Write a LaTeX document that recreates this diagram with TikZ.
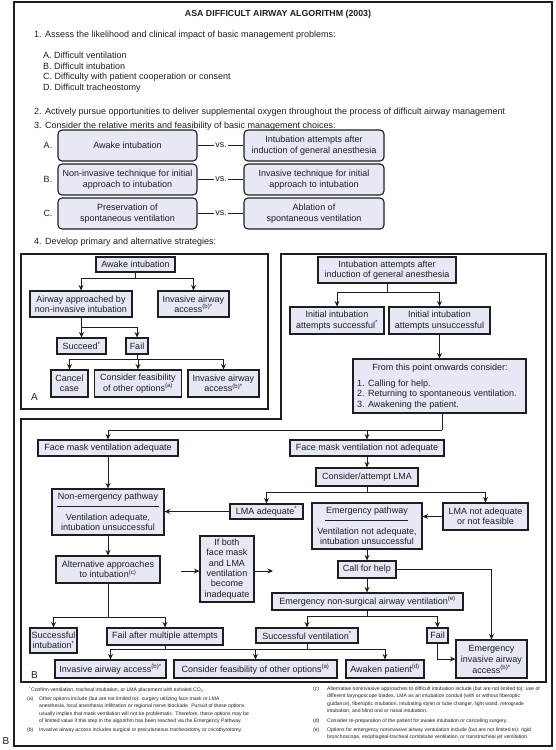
\documentclass[tikz,border=0pt]{standalone}
\usepackage{fontspec}
\setmainfont{Liberation Sans}
\usetikzlibrary{arrows.meta,calc}
\definecolor{boxfill}{RGB}{230,232,245}
\definecolor{ink}{RGB}{30,30,30}
\begin{document}
\begin{tikzpicture}[x=1pt,y=-1pt,
  every node/.style={font=\fontsize{9}{10.4}\selectfont, text=ink},
  bx/.style={draw=ink, fill=boxfill, line width=1.1pt, inner sep=0pt, align=center},
  rbx/.style={bx, rounded corners=4pt},
  arr/.style={-{Stealth[length=5.5pt,width=5pt]}, line width=1pt, draw=ink},
  ln/.style={line width=1pt, draw=ink},
  frm/.style={line width=1.2pt, draw=ink},
  txt/.style={inner sep=0pt, anchor=west},
  lbl/.style={inner sep=0pt, font=\fontsize{10}{12}\selectfont},
  fn/.style={inner sep=0pt, anchor=north west, font=\fontsize{5.1}{7.4}\selectfont, align=left},
]
\useasboundingbox (0,0) rectangle (556,750);
% frames
\draw[frm] (14,2) rectangle (552,746);
\draw[frm] (21,254) rectangle (268,409);
\draw[frm] (21,419) -- (281,419) -- (281,254) -- (546,254) -- (546,682) -- (21,682) -- cycle;

% header texts
\node[inner sep=0pt, font=\bfseries\fontsize{8.8}{10}\selectfont] (title) at (278,14) {ASA DIFFICULT AIRWAY ALGORITHM (2003)};
\node[txt] (t1) at (34,35) {1. Assess the likelihood and clinical impact of basic management problems:};
\node[txt] (t1a) at (43,55.5) {A. Difficult ventilation};
\node[txt] (t1b) at (43,66.5) {B. Difficult intubation};
\node[txt] (t1c) at (43,77.5) {C. Difficulty with patient cooperation or consent};
\node[txt] (t1d) at (43,88.5) {D. Difficult tracheostomy};
\node[txt] (t2) at (34,112) {2. Actively pursue opportunities to deliver supplemental oxygen throughout the process of difficult airway management};
\node[txt] (t3) at (34,126) {3. Consider the relative merits and feasibility of basic management choices:};
\node[txt] (t4) at (34,242) {4. Develop primary and alternative strategies:};

% section 3 rows
\node (lA) at (48,145.5) {A.};
\node (lB) at (48,179.5) {B.};
\node (lC) at (48,213.5) {C.};
\node[rbx, minimum width=139pt, minimum height=31pt] (sA1) at (127.5,145.5) {Awake intubation};
\node[rbx, minimum width=140pt, minimum height=31pt] (sA2) at (314,145.5) {Intubation attempts after\\induction of general anesthesia};
\node[rbx, minimum width=139pt, minimum height=31pt] (sB1) at (127.5,179.5) {Non-invasive technique for initial\\approach to intubation};
\node[rbx, minimum width=140pt, minimum height=31pt] (sB2) at (314,179.5) {Invasive technique for initial\\approach to intubation};
\node[rbx, minimum width=139pt, minimum height=31pt] (sC1) at (127.5,213.5) {Preservation of\\spontaneous ventilation};
\node[rbx, minimum width=140pt, minimum height=31pt] (sC2) at (314,213.5) {Ablation of\\spontaneous ventilation};
\node[inner sep=1.5pt] (vsA) at (221,145.5) {vs.};
\node[inner sep=1.5pt] (vsB) at (221,179.5) {vs.};
\node[inner sep=1.5pt] (vsC) at (221,213.5) {vs.};
\draw[ln] (sA1.east) -- (vsA.west); \draw[ln] (vsA.east) -- (sA2.west);
\draw[ln] (sB1.east) -- (vsB.west); \draw[ln] (vsB.east) -- (sB2.west);
\draw[ln] (sC1.east) -- (vsC.west); \draw[ln] (vsC.east) -- (sC2.west);

% box A
\node[bx, minimum width=79pt, minimum height=15pt] (awake) at (135.5,264.5) {Awake intubation};
\node[bx, minimum width=102pt, minimum height=26pt] (airway) at (81,304) {Airway approached by\\non-invasive intubation};
\node[bx, minimum width=71pt, minimum height=26pt] (invA1) at (193.5,304) {Invasive airway\\access\textsuperscript{(b)*}};
\node[bx, minimum width=49pt, minimum height=16pt] (succeed) at (81.5,346) {Succeed\textsuperscript{*}};
\node[bx, minimum width=22pt, minimum height=16pt] (failA) at (137,346) {Fail};
\node[bx, minimum width=37pt, minimum height=27pt] (cancel) at (69.5,383.5) {Cancel\\case};
\node[bx, minimum width=87pt, minimum height=27pt] (consA) at (138,383.5) {Consider feasibility\\of other options\textsuperscript{(a)}};
\node[bx, minimum width=71pt, minimum height=27pt] (invA2) at (223.5,383.5) {Invasive airway\\access\textsuperscript{(b)*}};
\node[lbl] (labA) at (34.5,397) {A};
\draw[ln] (awake.south) -- ++(0,6) coordinate (jA1);
\draw[arr] (jA1) -| (airway.north);
\draw[arr] (jA1) -| (invA1.north);
\draw[ln] (airway.south) -- ++(0,10) coordinate (jA2);
\draw[arr] (jA2) -| (succeed.north);
\draw[arr] (jA2) -| (failA.north);
\draw[ln] (failA.south) -- ++(0,5) coordinate (jA3);
\draw[arr] (jA3) -| (cancel.north);
\draw[arr] (jA3) -| (consA.north);
\draw[arr] (jA3) -| (invA2.north);

% box B upper
\node[bx, minimum width=138pt, minimum height=26pt] (induct) at (387,270) {Intubation attempts after\\induction of general anesthesia};
\node[bx, minimum width=94pt, minimum height=27pt] (isucc) at (337,320.5) {Initial intubation\\attempts successful\textsuperscript{*}};
\node[bx, minimum width=101pt, minimum height=27pt] (iunsucc) at (439.5,320.5) {Initial intubation\\attempts unsuccessful};
\node[bx, minimum width=173pt, minimum height=54pt] (from) at (439.5,386) {};
\node[inner sep=0pt] (fromH) at (440,368) {From this point onwards consider:};
\node[txt, align=left] (fromL) at (357,394.5) {1. Calling for help.\\2. Returning to spontaneous ventilation.\\3. Awakening the patient.};
\draw[ln] (induct.south) -- ++(0,9) coordinate (jB1);
\draw[arr] (jB1) -| (isucc.north);
\draw[arr] (jB1) -| (iunsucc.north);
\draw[arr] (iunsucc.south) -- (from.north -| iunsucc.south);
\coordinate (jB2) at (442,430);
\draw[ln] (from.south -| jB2) -- (jB2);

% box B lower
\node[bx, minimum width=140pt, minimum height=16pt] (fmadeq) at (108,448) {Face mask ventilation adequate};
\node[bx, minimum width=154pt, minimum height=16pt] (fmnot) at (367,448) {Face mask ventilation not adequate};
\draw[arr] (jB2) -| (fmadeq.north);
\draw[arr] (jB2) -| (fmnot.north);
\node[bx, minimum width=102pt, minimum height=18pt] (lma) at (367,477) {Consider/attempt LMA};
\draw[arr] (fmnot.south) -- (lma.north);
\node[bx, minimum width=73pt, minimum height=15pt] (lmaok) at (266.5,511.5) {LMA adequate\textsuperscript{*}};
\node[bx, minimum width=85pt, minimum height=27pt] (lmanot) at (485.5,516.5) {LMA not adequate\\or not feasible};
\draw[ln] (lma.south) -- ++(0,6) coordinate (jB3);
\draw[arr] (jB3) -| (lmaok.north);
\draw[arr] (jB3) -| (lmanot.north);

\node[bx, minimum width=112pt, minimum height=46pt] (nonem) at (108,512) {};
\node[inner sep=0pt] (nonemH) at (108,497.5) {Non-emergency pathway};
\draw[line width=0.8pt, draw=ink] (57,506) -- (159,506);
\node[inner sep=0pt, align=center] (nonemB) at (108,522.5) {Ventilation adequate,\\intubation unsuccessful};

\node[bx, minimum width=110pt, minimum height=46pt] (emerg) at (367,526) {};
\node[inner sep=0pt] (emergH) at (367,511.5) {Emergency pathway};
\draw[line width=0.8pt, draw=ink] (325,520) -- (408,520);
\node[inner sep=0pt, align=center] (emergB) at (367,536) {Ventilation not adequate,\\intubation unsuccessful};

\draw[arr] (fmadeq.south) -- (nonem.north);
\draw[arr] (lmaok.west) -- (lmaok.west -| nonem.east);
\draw[arr] (lmanot.west) -- (lmanot.west -| emerg.east);

\node[bx, minimum width=104pt, minimum height=27pt] (alt) at (108,569.5) {Alternative approaches\\to intubation\textsuperscript{(c)}};
\draw[arr] (nonem.south) -- (alt.north);
\node[bx, minimum width=54pt, minimum height=66pt] (ifboth) at (227,569) {If both\\face mask\\and LMA\\ventilation\\become\\inadequate};
\coordinate (ib1) at (181,571);
\coordinate (ib2) at (273,571);
\draw[arr] (ib1) -- (ib1 -| ifboth.west);
\draw[arr] (ib2 -| ifboth.east) -- (ib2);

\node[bx, minimum width=58pt, minimum height=17pt] (help) at (367,569.5) {Call for help};
\draw[arr] (emerg.south) -- (help.north);
\node[bx, minimum width=191pt, minimum height=17pt] (ensav) at (367.5,601.5) {Emergency non-surgical airway ventilation\textsuperscript{(e)}};
\draw[arr] (help.south) -- (ensav.north -| help.south);
\node[bx, minimum width=102pt, minimum height=15pt] (svent) at (307,635.5) {Successful ventilation\textsuperscript{*}};
\node[bx, minimum width=21pt, minimum height=15pt] (failB) at (437.5,635.5) {Fail};
\draw[ln] (ensav.south -| help.south) -- ++(0,6) coordinate (jB4);
\draw[arr] (jB4) -| (svent.north);
\draw[arr] (jB4) -| (failB.north);
\node[bx, minimum width=71pt, minimum height=38pt, font=\fontsize{9}{11}\selectfont] (einv) at (491.5,659) {Emergency\\invasive airway\\access\textsuperscript{(b)*}};
\draw[arr] (help.east) -| (einv.north);
\draw[arr] (failB.south) |- (einv.west);

\node[bx, minimum width=47pt, minimum height=25pt] (sint) at (53.5,640.5) {Successful\\intubation\textsuperscript{*}};
\node[bx, minimum width=116pt, minimum height=17pt] (fmult) at (165,636.5) {Fail after multiple attempts};
\draw[ln] (alt.south) -- ++(0,34) coordinate (jB5);
\draw[arr] (jB5) -| (sint.north);
\draw[arr] (jB5) -| (fmult.north);

\node[bx, minimum width=111pt, minimum height=18pt] (invB) at (110.5,669) {Invasive airway access\textsuperscript{(b)*}};
\node[bx, minimum width=163pt, minimum height=18pt] (consB) at (255.5,669) {Consider feasibility of other options\textsuperscript{(a)}};
\node[bx, minimum width=78pt, minimum height=18pt] (awaken) at (385,669) {Awaken patient\textsuperscript{(d)}};
\draw[ln] (fmult.south) -- ++(0,4) coordinate (jF);
\draw[ln] (svent.south) -- (svent.south |- jF) coordinate (jS);
\draw[ln] (jF) -- (jS);
\draw[arr] (jF) -| (invB.north);
\draw[arr] (jF) -| (consB.north);
\draw[arr] (jS) -| (awaken.north);
\node[lbl] (labB) at (34.5,675) {B};
\node[lbl] (labB2) at (6,741) {B};

% footnotes
\node[fn] (fnS) at (29,686.5) {\textsuperscript{*}Confirm ventilation, tracheal intubation, or LMA placement with exhaled CO\textsubscript{2}.};
\node[fn] (fnaL) at (27,696.5) {(a)};
\node[fn] (fnaT) at (39,696.5) {Other options include (but are not limited to): surgery utilizing face mask or LMA\\anesthesia, local anesthesia infiltration or regional nerve blockade. Pursuit of these options\\usually implies that mask ventilation will not be problematic. Therefore, these options may be\\of limited value if this step in the algorithm has been reached via the Emergency Pathway.};
\node[fn] (fnbL) at (27,727.5) {(b)};
\node[fn] (fnbT) at (39,727.5) {Invasive airway access includes surgical or precutaneous tracheostomy or cricothyrotomy.};
\node[fn] (fncL) at (313,686.5) {(c)};
\node[fn] (fncT) at (327,686.5) {Alternative noninvasive approaches to difficult intubation include (but are not limited to): use of\\different laryngoscope blades, LMA as an intubation conduit (with or without fiberoptic\\guidance), fiberoptic intubation, intubating stylet or tube changer, light wand, retrograde\\intubation, and blind oral or nasal intubation.};
\node[fn] (fndL) at (313,718.5) {(d)};
\node[fn] (fndT) at (327,718.5) {Consider re-preparation of the patient for awake intubation or canceling surgery.};
\node[fn] (fneL) at (313,727.5) {(e)};
\node[fn] (fneT) at (327,727.5) {Options for emergency noninvasive airway ventulation include (but are not limited to): rigid\\bronchoscope, esophageal-tracheal combitube ventilation, or transtracheal jet ventilation.};
\end{tikzpicture}
\end{document}
